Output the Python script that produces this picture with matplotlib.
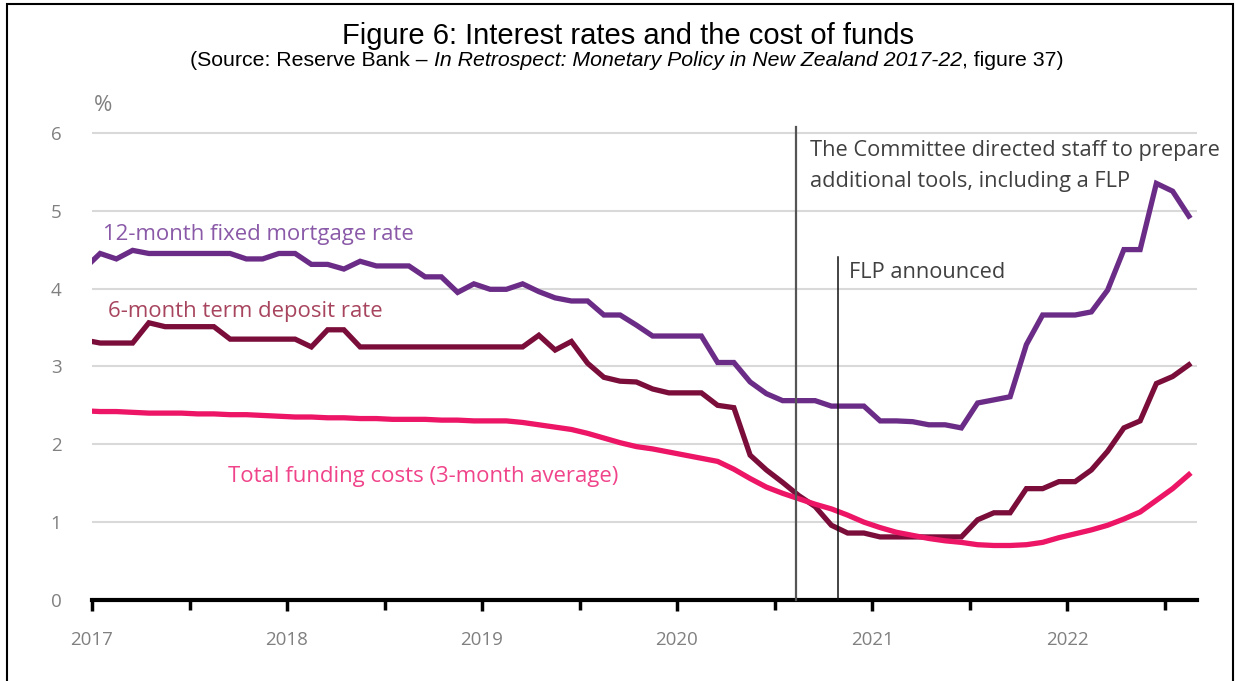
import numpy as np
import matplotlib.pyplot as plt
from matplotlib.patches import Rectangle
from matplotlib.ticker import MultipleLocator

# monthly series, Dec 2016 .. Aug 2022, plotted at mid-month
mortgage = [4.25,
            4.45, 4.38, 4.49, 4.45, 4.45, 4.45, 4.45, 4.45, 4.45, 4.38, 4.38, 4.45,
            4.45, 4.31, 4.31, 4.25, 4.35, 4.29, 4.29, 4.29, 4.15, 4.15, 3.95, 4.06,
            3.99, 3.99, 4.06, 3.96, 3.88, 3.84, 3.84, 3.66, 3.66, 3.53, 3.39, 3.39,
            3.39, 3.39, 3.05, 3.05, 2.80, 2.65, 2.56, 2.56, 2.56, 2.49, 2.49, 2.49,
            2.30, 2.30, 2.29, 2.25, 2.25, 2.21, 2.53, 2.57, 2.61, 3.28, 3.66, 3.66,
            3.66, 3.70, 3.98, 4.50, 4.50, 5.35, 5.25, 4.93]
deposit = [3.34,
           3.30, 3.30, 3.30, 3.56, 3.51, 3.51, 3.51, 3.51, 3.35, 3.35, 3.35, 3.35,
           3.35, 3.25, 3.47, 3.47, 3.25, 3.25, 3.25, 3.25, 3.25, 3.25, 3.25, 3.25,
           3.25, 3.25, 3.25, 3.40, 3.21, 3.32, 3.04, 2.86, 2.81, 2.80, 2.71, 2.66,
           2.66, 2.66, 2.50, 2.47, 1.86, 1.67, 1.51, 1.34, 1.20, 0.96, 0.86, 0.86,
           0.81, 0.81, 0.81, 0.81, 0.81, 0.81, 1.03, 1.12, 1.12, 1.43, 1.43, 1.52,
           1.52, 1.67, 1.91, 2.21, 2.30, 2.78, 2.87, 3.02]
funding = [2.43,
           2.42, 2.42, 2.41, 2.40, 2.40, 2.40, 2.39, 2.39, 2.38, 2.38, 2.37, 2.36,
           2.35, 2.35, 2.34, 2.34, 2.33, 2.33, 2.32, 2.32, 2.32, 2.31, 2.31, 2.30,
           2.30, 2.30, 2.28, 2.25, 2.22, 2.19, 2.14, 2.08, 2.02, 1.97, 1.94, 1.90,
           1.86, 1.82, 1.78, 1.68, 1.56, 1.45, 1.37, 1.30, 1.23, 1.17, 1.09, 1.00,
           0.93, 0.87, 0.83, 0.79, 0.76, 0.74, 0.71, 0.70, 0.70, 0.71, 0.74, 0.80,
           0.85, 0.90, 0.96, 1.04, 1.13, 1.28, 1.43, 1.61]
months = 2017 + (np.arange(-1, len(mortgage) - 1) + 0.5) / 12

committee_date = 2020.61
flp_date = 2020.827
years = [2017, 2018, 2019, 2020, 2021, 2022]

plt.rcParams['font.family'] = ['Open Sans', 'DejaVu Sans']

fig = plt.figure(figsize=(12.36, 6.81), dpi=100)
ax = fig.add_axes([92 / 1236, 1 - 600 / 681, 1105 / 1236, 475 / 681])

ax.plot(months, mortgage, color='#6a2c86', lw=3.8, solid_joinstyle='miter', zorder=3)
ax.plot(months, deposit, color='#7a0d3a', lw=3.8, solid_joinstyle='miter', zorder=4)
ax.plot(months, funding, color='#ec1566', lw=3.8, zorder=5)

ax.set_xlim(2017, 2022 + 8 / 12)
ax.set_ylim(0, 6.1)
ax.set_yticks(range(0, 7))
ax.grid(axis='y', color='#d9d9d9', lw=1.5)
ax.set_axisbelow(True)
ax.xaxis.set_minor_locator(MultipleLocator(0.5))
ax.set_xticks(years)
ax.set_xticklabels([str(y) for y in years])

for s in ['top', 'right', 'left']:
    ax.spines[s].set_visible(False)
ax.spines['bottom'].set_linewidth(3)
ax.spines['bottom'].set_zorder(6)
ax.tick_params(axis='x', which='major', length=8, width=2.5, direction='out',
               labelsize=13.5, labelcolor='#808080', pad=14)
ax.tick_params(axis='x', which='minor', length=7, width=2.5, direction='out')
ax.tick_params(axis='y', length=0, labelsize=13.5, labelcolor='#808080', pad=22)

# event markers
ax.plot([committee_date, committee_date], [0, 6.07], color='#555555', lw=1.6,
        zorder=7, clip_on=False)
ax.plot([flp_date, flp_date], [0, 4.4], color='#111111', lw=1.1, zorder=7)

ax.text(2020.68, 5.57, 'The Committee directed staff to prepare\nadditional tools, including a FLP',
        fontsize=15.7, color='#404040', va='center', linespacing=1.6)
ax.text(2020.88, 4.2, 'FLP announced', fontsize=15.7, color='#404040', va='center')

ax.text(2017.055, 4.7, '12-month fixed mortgage rate', fontsize=15.9, color='#8a5aa8', va='center')
ax.text(2017.08, 3.7, '6-month term deposit rate', fontsize=15.9, color='#a8455e', va='center')
ax.text(2017.70, 1.58, 'Total funding costs (3-month average)', fontsize=15.9,
        color='#f0448a', va='center')

ax.text(2017.01, 6.35, '%', fontsize=16, color='#808080', va='center', clip_on=False)

fig.text(0.508, 1 - 36 / 681, 'Figure 6: Interest rates and the cost of funds',
         family='Liberation Sans', fontsize=21, ha='center', va='center')
sub = fig.text(190 / 1236, 1 - 61 / 681, '(Source: Reserve Bank \u2013 ', family='Liberation Sans',
               fontsize=15.3, va='center')
fig.canvas.draw()
r = fig.canvas.get_renderer()
bb = sub.get_window_extent(r)
it = fig.text(bb.x1 / 1236, 1 - 61 / 681, 'In Retrospect: Monetary Policy in New Zealand 2017-22',
              family='Liberation Sans', style='italic', fontsize=15.3, va='center')
bb2 = it.get_window_extent(r)
fig.text(bb2.x1 / 1236, 1 - 61 / 681, ', figure 37)', family='Liberation Sans',
         fontsize=15.3, va='center')

# page frame
fig.patches.append(Rectangle((7 / 1236, -0.05), 1226 / 1236, 1.05 - 4 / 681,
                             transform=fig.transFigure, fill=False, ec='black', lw=1.5))

fig.savefig('out.png', dpi=100)
